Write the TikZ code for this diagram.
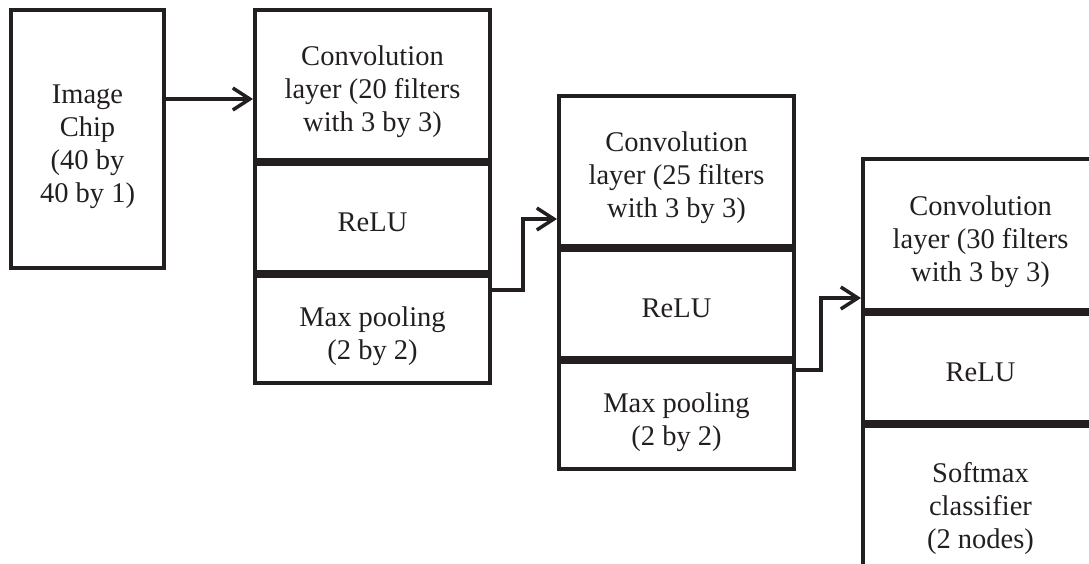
\documentclass[tikz,border=0pt]{standalone}
\usepackage{fontspec}
\setmainfont{Liberation Serif}
\usetikzlibrary{arrows.meta,calc}

\definecolor{ink}{RGB}{35,31,32}

% centred lines of text, set a little below the middle of the cell
\newcommand\celltext[1]{\raisebox{-7pt}[\height][\depth]{\begin{tabular}{@{}c@{}}#1\end{tabular}}}

\begin{document}
\begin{tikzpicture}[x=1pt,y=-1pt,
  cell/.style={draw=ink, text=ink, line width=4pt, rectangle, inner sep=0pt,
    anchor=north west, minimum width=235pt,
    font=\fontsize{28.5}{33}\selectfont},
  arr/.style={draw=ink, line width=3.5pt,
    -{Straight Barb[length=17pt,width=22pt]}}
]
\useasboundingbox (0,0) rectangle (1089,564);
\clip (0,0) rectangle (1089,564);

% input
\node[cell, minimum width=153pt, minimum height=258pt] (chip) at (9,8)
  {\celltext{Image\\Chip\\(40 by\\40 by 1)}};

% first stage
\node[cell, minimum height=150pt] (b1a) at (253,8)
  {\celltext{Convolution\\layer (20 filters\\with 3 by 3)}};
\node[cell, minimum height=108pt] (b1b) at (b1a.south west) {\celltext{ReLU}};
\node[cell, minimum height=107pt] (b1c) at (b1b.south west)
  {\celltext{Max pooling\\(2 by 2)}};

% second stage
\node[cell, minimum height=150pt] (b2a) at (557,94)
  {\celltext{Convolution\\layer (25 filters\\with 3 by 3)}};
\node[cell, minimum height=108pt] (b2b) at (b2a.south west) {\celltext{ReLU}};
\node[cell, minimum height=107pt] (b2c) at (b2b.south west)
  {\celltext{Max pooling\\(2 by 2)}};

% third stage
\node[cell, minimum height=151pt] (b3a) at (861,157)
  {\celltext{Convolution\\layer (30 filters\\with 3 by 3)}};
\node[cell, minimum height=108pt] (b3b) at (b3a.south west) {\celltext{ReLU}};
\node[cell, minimum height=152pt] (b3c) at (b3b.south west)
  {\celltext{Softmax\\classifier\\(2 nodes)}};

% connectors
\coordinate (a1s) at ($(chip.east)+(0,-40)$);
\draw[arr] (a1s) -- (a1s -| b1a.west);

\coordinate (a2s) at ($(b1c.north east)+(0,16)$);
\coordinate (a2e) at ($(b2a.west)+(0,48)$);
\draw[arr] (a2s) -| ($(a2e)+(-34,0)$) -- (a2e);

\coordinate (a3s) at ($(b2c.north east)+(0,10)$);
\coordinate (a3e) at ($(b3a.west)+(0,63.5)$);
\draw[arr] (a3s) -| ($(a3e)+(-40,0)$) -- (a3e);
\end{tikzpicture}
\end{document}
